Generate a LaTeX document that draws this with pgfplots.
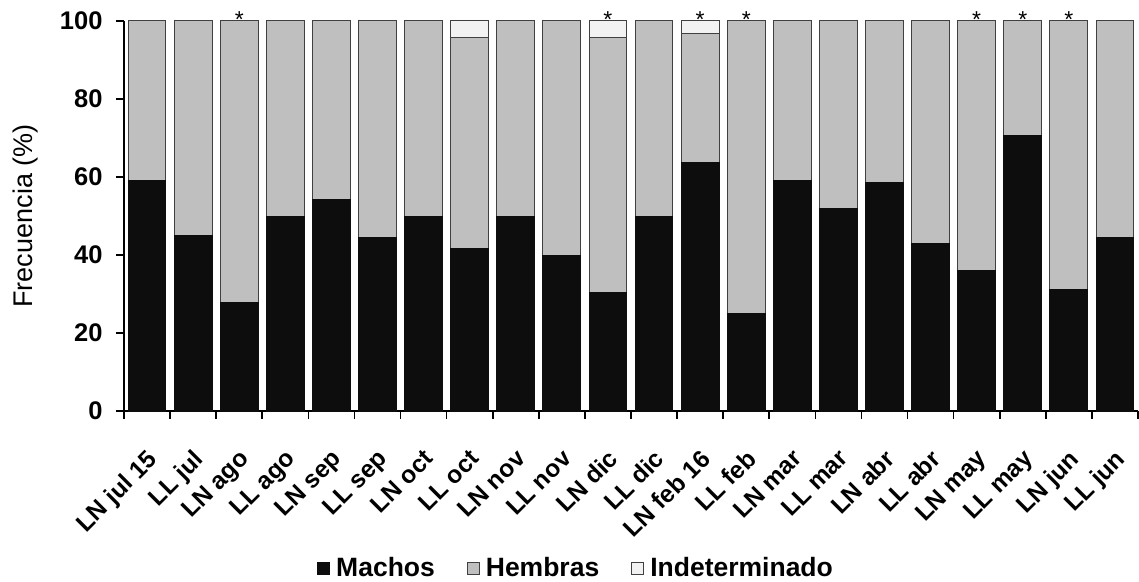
\documentclass[border=0pt]{standalone}
\usepackage{fontspec}
\setmainfont{Liberation Sans}
\usepackage{pgfplots}
\pgfplotsset{compat=1.18}
\usepackage{pgfplotstable}

\definecolor{machos}{HTML}{0D0D0D}
\definecolor{hembras}{HTML}{BFBFBF}
\definecolor{indet}{HTML}{F2F2F2}
\definecolor{borde}{HTML}{404040}

% Porcentaje de machos, hembras e indeterminados por muestreo
\pgfplotstableread{
x  machos hembras indet
0  59.1   40.9    0
1  45.0   55.0    0
2  27.8   72.2    0
3  50.0   50.0    0
4  54.2   45.8    0
5  44.4   55.6    0
6  50.0   50.0    0
7  41.6   54.2    4.2
8  50.0   50.0    0
9  40.0   60.0    0
10 30.5   65.2    4.3
11 50.0   50.0    0
12 63.6   33.2    3.2
13 25.0   75.0    0
14 59.1   40.9    0
15 52.0   48.0    0
16 58.6   41.4    0
17 42.9   57.1    0
18 36.0   64.0    0
19 70.6   29.4    0
20 31.2   68.8    0
21 44.4   55.6    0
}\datos

\begin{document}
\begin{tikzpicture}
\begin{axis}[
  width=1014pt, height=390pt, scale only axis,
  xmin=-0.5, xmax=21.5, ymin=0, ymax=100,
  ybar stacked, bar width=0.82,
  clip=false,
  axis lines*=left,
  axis line style={line width=2pt},
  tick align=outside,
  major tick length=8pt,
  tick style={line width=1.6pt, black},
  ytick={0,20,...,100},
  yticklabel style={/pgf/number format/assume math mode=true,
    font=\bfseries\fontsize{25.5}{30}\selectfont, xshift=-10pt},
  xtick={-0.5,0.5,...,21.5},
  xticklabels={},
  extra x ticks={0,...,21},
  extra x tick labels={LN jul 15, LL jul, LN ago, LL ago, LN sep, LL sep,
    LN oct, LL oct, LN nov, LL nov, LN dic, LL dic, LN feb 16, LL feb,
    LN mar, LL mar, LN abr, LL abr, LN may, LL may, LN jun, LL jun},
  extra x tick style={major tick length=0pt, tick style={draw=none},
    xticklabel style={yshift=-37pt, xshift=-1pt, rotate=45,
      anchor=north east, inner sep=0pt,
      font=\bfseries\fontsize{24.5}{28}\selectfont}},
  every axis y label/.style={at={(rel axis cs:-0.0976,0.5)}, anchor=center,
    rotate=90, font=\fontsize{27}{30}\selectfont},
  ylabel={Frecuencia (\%)},
  legend style={at={(0.4458,-0.4026)}, anchor=center, draw=none,
    legend columns=3, font=\bfseries\fontsize{26.5}{30}\selectfont,
    /tikz/every odd column/.append style={column sep=4pt},
    /tikz/every even column/.append style={column sep=30pt}},
  legend image code/.code={\draw[#1, line width=1pt] (0pt,-6pt) rectangle (12pt,6pt);},
]
\addplot[fill=machos, draw=machos, line width=1pt] table[x=x, y=machos]{\datos};
\addplot[fill=hembras, draw=borde, line width=1pt] table[x=x, y=hembras]{\datos};
\addplot[fill=indet, draw=borde, line width=1pt] table[x=x, y=indet]{\datos};
\legend{Machos, Hembras, Indeterminado}

% Diferencias significativas en la proporción de sexos
\pgfplotsinvokeforeach{2,10,12,13,18,19,20}{
  \node[anchor=base, inner sep=0pt, font=\fontsize{23}{23}\selectfont]
    at (axis cs:#1,100) [yshift=-7pt] {*};
}
\end{axis}
\pgfresetboundingbox
\path (current axis.south west) ++(-124pt,-170pt) rectangle ++(1139pt,581pt);
\end{tikzpicture}
\end{document}
